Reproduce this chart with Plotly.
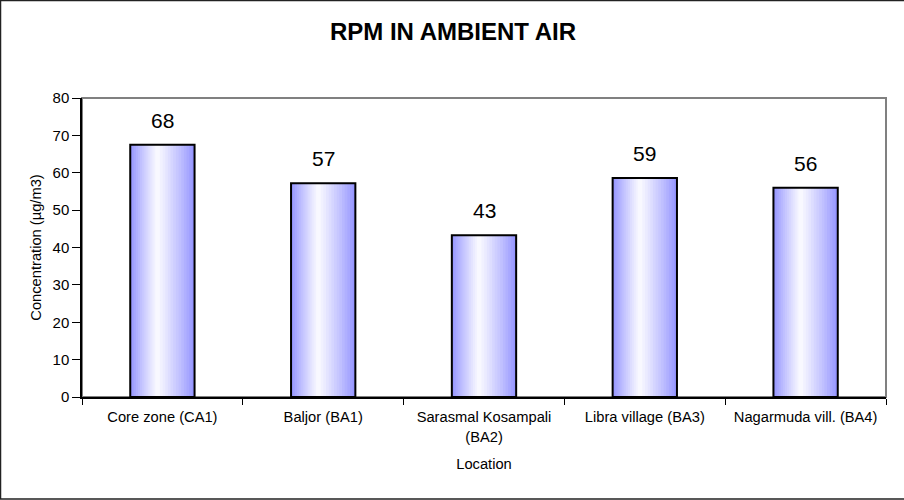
import plotly.graph_objects as go

locations = ["Core zone (CA1)", "Baljor (BA1)", "Sarasmal Kosampali<br>(BA2)",
             "Libra village (BA3)", "Nagarmuda vill. (BA4)"]
rpm_values = [67.5, 57.2, 43.3, 58.6, 56.0]
y_ticks = [0, 10, 20, 30, 40, 50, 60, 70, 80]

FONT = "Liberation Sans, Arial, sans-serif"

fig = go.Figure()

# gradient bars built from overlaid layers
BAR_W = 0.40
N = 14
edge = (150, 150, 255)
peak_frac = 0.42
L, R = -BAR_W / 2, BAR_W / 2
c = L + peak_frac * BAR_W
for i in range(N):
    t = i / N
    left = L + t * (c - L)
    right = R - t * (R - c)
    col = tuple(int(round(e + (255 - e) * (t ** 0.9))) for e in edge)
    fig.add_trace(go.Bar(
        x=locations, y=rpm_values,
        width=right - left, offset=left,
        marker=dict(color="rgb(%d,%d,%d)" % col, line=dict(width=0)),
        hoverinfo="skip", showlegend=False))

# outline
fig.add_trace(go.Bar(
    x=locations, y=rpm_values, width=BAR_W, offset=-BAR_W / 2,
    marker=dict(color="rgba(0,0,0,0)", line=dict(color="black", width=2)),
    showlegend=False))

for loc, v in zip(locations, rpm_values):
    fig.add_annotation(x=loc, y=v, text="%d" % round(v), showarrow=False,
                       yanchor="bottom", yshift=11,
                       font=dict(family=FONT, size=21, color="black"))

fig.update_layout(
    barmode="overlay",
    width=904, height=500,
    margin=dict(l=82, r=18, t=98, b=103, autoexpand=False),
    paper_bgcolor="white", plot_bgcolor="white",
    font=dict(family=FONT, color="black"),
    title=dict(text="<b>RPM IN AMBIENT AIR</b>", x=(453 - 82) / 804, xref="paper",
               xanchor="center", y=1 - 32 / 500, yanchor="middle",
               font=dict(family=FONT, size=24, color="black")),
    showlegend=False,
)

fig.update_xaxes(
    showgrid=False, showline=True, linecolor="black", linewidth=1.5,
    ticks="outside", ticklen=6, tickcolor="black", tickson="boundaries",
    ticklabelstandoff=6, automargin=False,
    tickfont=dict(family=FONT, size=14.7, color="black"),
    title=dict(text="Location", font=dict(family=FONT, size=14.7, color="black"), standoff=15),
)
fig.update_yaxes(
    range=[0, 80], tickvals=y_ticks, showgrid=False, zeroline=False,
    showline=True, linecolor="black", linewidth=1.5, automargin=False,
    ticks="outside", ticklen=8, tickcolor="black",
    tickfont=dict(family=FONT, size=15, color="black"),
    title=dict(text="Concentration (µg/m3)", font=dict(family=FONT, size=14.7, color="black"), standoff=7),
)

# plot area border (gray) and outer chart border
fig.add_shape(type="rect", xref="paper", yref="paper", x0=0, x1=1, y0=0, y1=1,
              line=dict(color="#808080", width=2), layer="below")
px = lambda x: (x - 82) / 804
py = lambda y: (397 - y) / 299
fig.add_shape(type="rect", xref="paper", yref="paper",
              x0=px(0.5), x1=px(910), y0=py(499), y1=py(0.5),
              line=dict(color="#222222", width=1.5), layer="above")

fig.write_html("out.html", config={"displayModeBar": False},
               post_script="document.body.style.margin='0';document.body.style.padding='0';")
